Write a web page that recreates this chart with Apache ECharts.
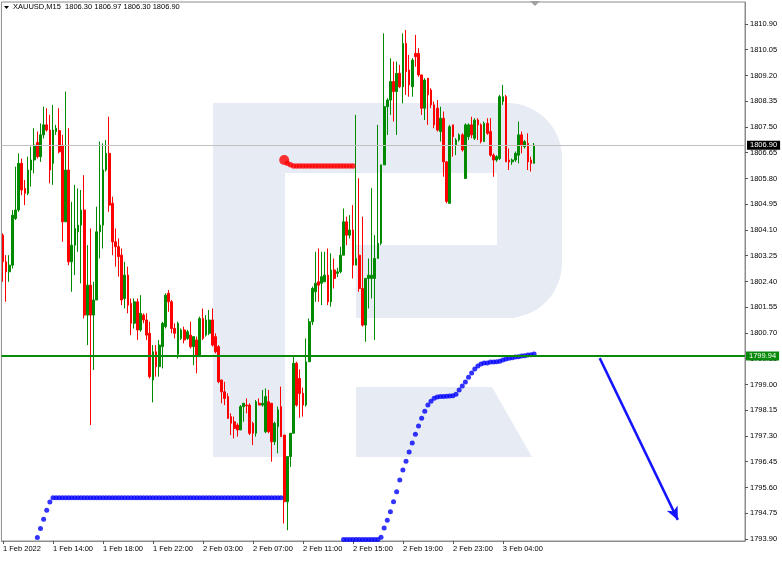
<!DOCTYPE html>
<html><head><meta charset="utf-8">
<script src="https://cdn.jsdelivr.net/npm/echarts/dist/echarts.min.js"></script>
<style>html,body{margin:0;padding:0;background:#fff}#c{width:782px;height:561px}</style>
</head><body><div id="c"></div>
<script>
// ---- data ----
const symbolTitle = 'XAUUSD,M15  1806.30 1806.97 1806.30 1806.90';
const slotCount = 238;           // bar slots on the x axis (incl. empty right area)
const xTickStep = 16;            // one label every 16 bars (4 hours)
const xTickLabels = ['1 Feb 2022','1 Feb 14:00','1 Feb 18:00','1 Feb 22:00','2 Feb 03:00','2 Feb 07:00','2 Feb 11:00','2 Feb 15:00','2 Feb 19:00','2 Feb 23:00','3 Feb 04:00'];
const yTickValues = [1793.90,1794.75,1795.60,1796.45,1797.30,1798.15,1799.00,1799.85,1800.70,1801.55,1802.40,1803.25,1804.10,1804.95,1805.80,1806.65,1807.50,1808.35,1809.20,1810.05,1810.90];
const yMin = 1793.834, yMax = 1811.626;

const opens = [1803.93,1803.05,1802.72,1802.94,1804.48,1804.76,1806.30,1805.47,1805.31,1806.08,
1806.41,1806.99,1806.52,1807.24,1807.57,1807.40,1806.30,1807.35,1807.38,1806.90,
1804.37,1806.08,1803.05,1803.60,1804.04,1804.26,1804.76,1801.29,1802.28,1801.29,
1801.79,1804.04,1804.26,1806.08,1806.63,1804.98,1803.71,1803.55,1803.27,1801.84,
1802.61,1801.68,1801.02,1801.73,1800.80,1801.29,1801.13,1800.69,1799.15,1800.08,
1799.59,1800.25,1800.91,1802.01,1801.73,1800.85,1800.00,1800.52,1800.80,1800.52,
1800.63,1800.25,1800.47,1799.92,1801.18,1800.63,1800.69,1801.13,1800.58,1800.25,
1799.15,1798.76,1798.60,1797.94,1797.77,1797.66,1797.50,1798.27,1798.32,1798.32,
1797.72,1797.39,1798.38,1798.32,1797.44,1798.43,1798.38,1797.11,1797.61,1798.27,
1797.33,1795.13,1796.62,1797.39,1799.70,1799.20,1798.71,1798.32,1799.75,1801.07,
1802.06,1802.39,1802.34,1802.39,1802.61,1801.73,1802.78,1802.67,1802.72,1803.27,
1804.37,1803.93,1804.10,1802.94,1803.27,1802.17,1800.96,1802.50,1802.50,1802.50,
1803.16,1803.66,1806.25,1808.17,1808.39,1809.00,1808.67,1809.27,1808.83,1810.26,
1809.38,1808.83,1809.93,1809.93,1809.22,1808.12,1809.11,1808.72,1808.23,1808.12,
1807.35,1807.79,1806.35,1804.98,1807.57,1806.91,1807.07,1807.24,1805.80,1807.18,
1807.57,1807.13,1807.73,1807.57,1807.02,1807.62,1807.35,1806.57,1806.41,1806.46,
1808.34,1808.50,1806.41,1806.35,1806.41,1806.57,1807.24,1806.85,1806.96,1806.41,
1806.30];
const closes = [1803.05,1802.72,1802.94,1804.59,1804.76,1806.30,1805.42,1805.31,1806.08,1806.41,
1806.90,1806.52,1807.24,1807.57,1807.40,1806.08,1807.40,1807.46,1806.68,1804.37,
1806.08,1803.05,1803.60,1804.15,1804.26,1804.76,1801.29,1802.28,1801.29,1801.79,
1804.04,1804.26,1806.08,1806.63,1804.92,1803.71,1803.55,1803.22,1801.79,1802.61,
1801.62,1801.02,1801.73,1800.80,1801.35,1801.13,1800.63,1799.26,1800.08,1799.59,
1800.30,1801.02,1801.95,1801.73,1800.85,1800.69,1801.02,1800.80,1800.47,1800.74,
1800.25,1800.58,1799.92,1801.18,1800.52,1801.13,1801.13,1800.30,1800.08,1799.09,
1798.76,1798.54,1797.88,1797.72,1797.55,1797.50,1798.27,1798.38,1798.30,1797.39,
1797.39,1798.43,1798.32,1798.38,1798.60,1797.44,1797.11,1797.72,1798.16,1797.28,
1795.13,1796.62,1797.39,1799.70,1798.32,1798.70,1798.32,1799.75,1801.07,1802.17,
1802.34,1802.28,1802.56,1802.61,1801.73,1802.78,1802.50,1802.72,1803.27,1804.37,
1803.93,1804.10,1802.94,1803.16,1802.17,1800.96,1802.50,1802.61,1802.61,1803.16,
1803.66,1806.25,1808.17,1808.39,1809.00,1808.67,1809.27,1808.83,1810.26,1809.33,
1808.89,1809.71,1809.82,1809.22,1808.12,1809.05,1808.56,1808.23,1807.57,1807.40,
1807.79,1806.35,1805.04,1807.51,1807.18,1807.07,1807.24,1806.74,1807.57,1807.57,
1807.24,1807.73,1807.57,1807.02,1807.62,1807.29,1806.57,1806.41,1806.52,1808.50,
1808.50,1806.35,1806.35,1806.41,1806.63,1807.24,1806.91,1807.02,1806.35,1806.30,
1806.90];
const highs = [1803.99,1803.27,1803.27,1804.76,1806.19,1806.63,1806.46,1805.75,1806.52,1806.85,
1807.46,1807.35,1807.62,1808.17,1808.12,1807.90,1808.23,1807.57,1808.12,1807.24,
1808.67,1807.46,1805.03,1805.59,1805.47,1805.42,1805.91,1803.60,1804.15,1802.39,
1804.87,1807.02,1806.96,1807.07,1807.84,1805.20,1804.15,1803.82,1803.49,1803.05,
1802.89,1801.84,1801.84,1801.84,1801.95,1801.35,1801.35,1801.07,1800.30,1800.30,
1800.47,1801.07,1802.01,1802.12,1801.79,1801.02,1801.07,1800.85,1800.91,1800.80,
1801.07,1800.58,1800.58,1801.24,1801.51,1801.29,1801.46,1801.51,1800.69,1800.30,
1799.15,1799.09,1798.71,1798.05,1797.94,1797.72,1798.32,1798.38,1798.54,1798.38,
1797.77,1798.49,1798.54,1798.82,1798.87,1798.82,1798.38,1797.77,1798.27,1798.93,
1797.33,1796.62,1797.39,1799.97,1799.75,1799.50,1798.90,1800.52,1801.18,1802.23,
1803.38,1803.49,1803.38,1803.38,1803.49,1803.33,1803.16,1802.85,1803.55,1804.81,
1804.54,1804.59,1804.92,1807.90,1805.81,1804.54,1802.50,1803.16,1805.48,1803.93,
1807.57,1806.25,1810.59,1808.45,1809.77,1809.66,1809.66,1809.55,1810.59,1810.70,
1809.88,1809.77,1810.54,1810.10,1809.22,1809.11,1809.11,1808.78,1808.34,1808.39,
1808.17,1808.01,1806.35,1807.57,1807.57,1807.13,1807.29,1807.29,1807.62,1807.62,
1807.84,1807.79,1807.79,1807.62,1807.68,1807.79,1807.79,1806.63,1806.57,1808.56,
1808.89,1808.56,1806.79,1806.46,1806.69,1807.68,1807.35,1807.07,1807.29,1806.52,
1806.97];
const lows = [1802.39,1801.73,1802.39,1802.83,1804.43,1804.70,1805.25,1804.92,1805.25,1805.53,
1805.97,1806.46,1806.35,1807.12,1807.35,1805.64,1805.59,1807.24,1806.63,1803.71,
1804.37,1802.94,1802.06,1802.61,1803.38,1802.34,1801.18,1800.30,1797.66,1799.48,
1801.79,1803.16,1803.49,1806.03,1804.70,1803.27,1802.89,1802.56,1801.62,1801.51,
1801.35,1800.63,1800.85,1800.47,1800.74,1801.02,1800.47,1799.20,1798.41,1799.26,
1799.26,1799.53,1800.85,1801.40,1800.69,1800.52,1799.86,1800.47,1800.36,1800.47,
1800.19,1799.64,1799.37,1799.92,1800.47,1800.58,1800.63,1800.25,1800.03,1799.04,
1798.38,1798.32,1797.88,1797.33,1797.22,1797.28,1797.50,1797.77,1798.05,1797.33,
1797.00,1797.28,1798.32,1798.27,1797.39,1797.39,1796.45,1797.00,1796.73,1797.28,
1794.41,1794.19,1796.28,1797.39,1798.27,1797.90,1797.94,1798.27,1799.75,1800.96,
1801.73,1801.73,1801.62,1802.39,1801.62,1801.57,1802.17,1802.55,1802.67,1803.27,
1803.60,1803.82,1802.50,1802.94,1802.06,1800.91,1800.41,1801.51,1801.84,1800.47,
1803.16,1803.60,1806.25,1807.24,1807.90,1807.68,1807.24,1808.78,1808.28,1808.56,
1808.50,1808.50,1809.49,1809.16,1807.90,1807.73,1807.57,1808.12,1807.46,1807.35,
1807.02,1805.86,1804.98,1804.98,1806.52,1806.57,1807.02,1806.69,1805.80,1807.07,
1807.13,1807.07,1807.07,1806.96,1807.02,1807.24,1806.52,1805.86,1806.35,1806.41,
1808.23,1806.35,1806.08,1806.25,1806.35,1806.30,1806.63,1806.79,1806.08,1806.03,
1806.30];

// blue dotted indicator #1 (starts at bar 11)
const blue1Start = 11;
const blue1 = [1793.95,1794.25,1794.55,1794.85,1795.12,
1795.26,1795.26,1795.26,1795.26,1795.26,1795.26,1795.26,1795.26,1795.26,1795.26,
1795.26,1795.26,1795.26,1795.26,1795.26,1795.26,1795.26,1795.26,1795.26,1795.26,
1795.26,1795.26,1795.26,1795.26,1795.26,1795.26,1795.26,1795.26,1795.26,1795.26,
1795.26,1795.26,1795.26,1795.26,1795.26,1795.26,1795.26,1795.26,1795.26,1795.26,
1795.26,1795.26,1795.26,1795.26,1795.26,1795.26,1795.26,1795.26,1795.26,1795.26,
1795.26,1795.26,1795.26,1795.26,1795.26,1795.26,1795.26,1795.26,1795.26,1795.26,
1795.26,1795.26,1795.26,1795.26,1795.26,1795.26,1795.26,1795.26,1795.26,1795.26,
1795.26,1795.26,1795.26,1795.26];
// blue dotted indicator #2 (starts at bar 109)
const blue2Start = 109;
const blue2 = [1793.88,1793.88,1793.88,1793.88,1793.88,1793.88,1793.88,1793.88,1793.88,1793.88,1793.88,1793.88,
1793.96,1794.26,1794.52,1794.80,1795.13,1795.46,1795.85,1796.18,1796.47,1796.77,
1797.07,1797.36,1797.63,1797.89,1798.12,1798.32,1798.45,1798.55,1798.59,1798.60,
1798.60,1798.61,1798.62,1798.63,1798.68,1798.82,1798.95,1799.08,1799.24,1799.38,
1799.51,1799.61,1799.68,1799.71,1799.71,1799.74,1799.74,1799.75,1799.77,1799.81,
1799.84,1799.87,1799.88,1799.91,1799.92,1799.94,1799.95,1799.97,1799.98,1800.01];
// red dotted indicator (big dot at bar 90, small dots from bar 91)
const redBig = [90, 1806.41];
const redStart = 91;
const red = [1806.30,1806.25,1806.21,1806.21,1806.21,1806.21,1806.21,1806.21,1806.21,1806.21,
1806.21,1806.21,1806.21,1806.21,1806.21,1806.21,1806.21,1806.21,1806.21,1806.21,1806.21,1806.21];
const levelGreen = 1799.94;
const bidPrice = 1806.90;
const arrowFrom = [191, 1799.87];
const arrowTo = [216, 1794.53];

// ---- build ----
const categories = [];
for (let i = 0; i < slotCount; i++) categories.push(String(i));
const candles = opens.map((o, i) => [o, closes[i], lows[i], highs[i]]);
const blue1Data = blue1.map((v, i) => [blue1Start + i, v]);
const blue2Data = blue2.map((v, i) => [blue2Start + i, v]);
const redData = red.map((v, i) => [redStart + i, v]);
const isTick = (idx) => idx % xTickStep === 0 && idx / xTickStep < xTickLabels.length;

const WM = '#e6ebf4';
const FONT = 'Liberation Sans';
const chart = echarts.init(document.getElementById('c'), null, {renderer: 'canvas'});
chart.setOption({
  animation: false,
  backgroundColor: '#ffffff',
  grid: {left: 1.24, right: 37, top: 2, bottom: 20, show: true, borderColor: '#8c8c8c', borderWidth: 1, backgroundColor: 'transparent'},
  graphic: {elements: [
    {type: 'rect', z: -10, shape: {x: 213, y: 103, width: 72, height: 354}, style: {fill: WM}},
    {type: 'rect', z: -10, shape: {x: 213, y: 103, width: 300, height: 70}, style: {fill: WM}},
    {type: 'rect', z: -10, shape: {x: 497, y: 103, width: 65, height: 215, r: [0, 55, 55, 0]}, style: {fill: WM}},
    {type: 'rect', z: -10, shape: {x: 356, y: 245, width: 160, height: 73}, style: {fill: WM}},
    {type: 'polygon', z: -10, shape: {points: [[356, 387], [492, 387], [532, 457], [356, 457]]}, style: {fill: WM}},
    {type: 'polygon', z: 10, shape: {points: [[530, 1], [540, 1], [535, 6]]}, style: {fill: '#a0a0a0'}},
    {type: 'polygon', z: 10, shape: {points: [[4, 6], [9, 6], [6.5, 9]]}, style: {fill: '#000'}},
    {type: 'text', z: 10, x: 13, y: 3, style: {text: symbolTitle, fill: '#000', font: '7.5px "' + FONT + '"'}}
  ]},
  xAxis: {
    type: 'category', data: categories, boundaryGap: true,
    axisLine: {show: true, lineStyle: {color: '#8c8c8c', width: 1}},
    axisTick: {show: true, alignWithLabel: true, length: 3, interval: (i) => isTick(i), lineStyle: {color: '#555'}},
    axisLabel: {show: true, interval: (i) => isTick(i), formatter: (v, i) => isTick(i) ? xTickLabels[i / xTickStep] : '',
      align: 'left', margin: 4, fontSize: 7.5, fontFamily: FONT, color: '#000'},
    splitLine: {show: false}
  },
  yAxis: {
    type: 'value', position: 'right', min: yMin, max: yMax, scale: true,
    axisLine: {show: true, lineStyle: {color: '#8c8c8c', width: 1}},
    axisTick: {show: true, length: 3, customValues: yTickValues, lineStyle: {color: '#555'}},
    axisLabel: {show: true, customValues: yTickValues, formatter: (v) => v.toFixed(2), margin: 5, fontSize: 7.5, fontFamily: FONT, color: '#000'},
    splitLine: {show: false}
  },
  series: [
    {
      type: 'candlestick', data: candles, barWidth: 2.2, z: 3,
      itemStyle: {color: '#008a00', color0: '#ff0000', borderColor: '#008a00', borderColor0: '#ff0000', borderWidth: 1},
      markLine: {
        silent: true, symbol: 'none', animation: false,
        data: [
          {yAxis: bidPrice, lineStyle: {color: '#c0c0c0', width: 1, type: 'solid'},
            label: {show: true, position: 'end', distance: 2, formatter: bidPrice.toFixed(2), color: '#fff', backgroundColor: '#000', padding: [1, 3, 0, 3], fontSize: 7.5, fontFamily: FONT}},
          {yAxis: levelGreen, lineStyle: {color: '#0a8a0a', width: 2, type: 'solid'},
            label: {show: true, position: 'end', distance: 1, formatter: levelGreen.toFixed(2), color: '#fff', backgroundColor: '#0a8a0a', padding: [1, 3, 0, 3], fontSize: 7.5, fontFamily: FONT}}
        ]
      }
    },
    {type: 'scatter', data: blue1Data, symbolSize: 5, z: 4, itemStyle: {color: '#0000ff'}, silent: true},
    {type: 'scatter', data: blue2Data, symbolSize: 5, z: 4, itemStyle: {color: '#0000ff'}, silent: true},
    {type: 'scatter', data: redData, symbolSize: 5.5, z: 4, itemStyle: {color: '#ff0000'}, silent: true},
    {type: 'scatter', data: [redBig], symbolSize: 10, z: 4, itemStyle: {color: '#ff0000'}, silent: true},
    {
      type: 'line', data: [], z: 5,
      markLine: {
        silent: true, animation: false, symbol: ['none', 'arrow'], symbolSize: [9, 13],
        lineStyle: {color: '#1414ff', width: 2.5, type: 'solid'}, label: {show: false},
        data: [[{coord: arrowFrom}, {coord: arrowTo}]]
      }
    }
  ]
});
</script></body></html>
